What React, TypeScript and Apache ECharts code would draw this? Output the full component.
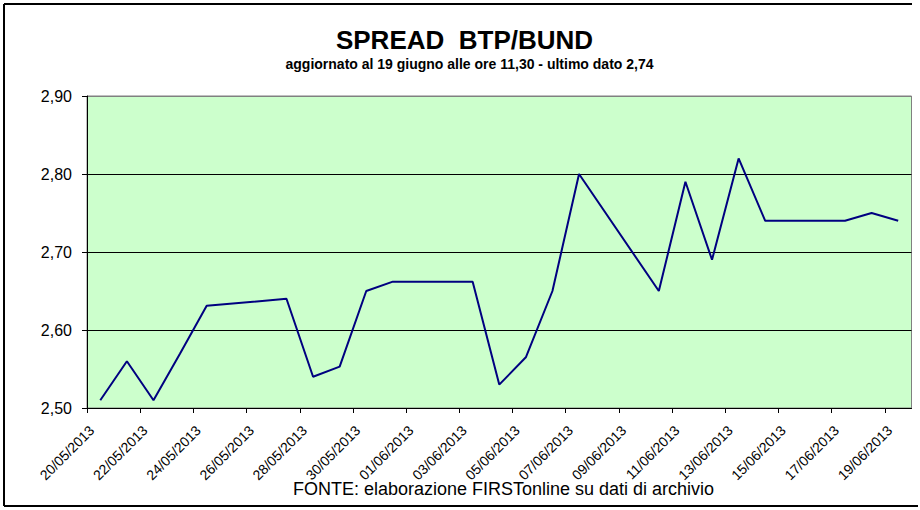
import React, { useEffect, useRef } from "react";
import * as echarts from "echarts";

const titleText = "SPREAD  BTP/BUND";
const subtitleText = "aggiornato al 19 giugno alle ore 11,30 - ultimo dato 2,74";
const sourceText = "FONTE: elaborazione FIRSTonline su dati di archivio";

const dates = [
  "20/05/2013", "21/05/2013", "22/05/2013", "23/05/2013", "24/05/2013", "25/05/2013", "26/05/2013",
  "27/05/2013", "28/05/2013", "29/05/2013", "30/05/2013", "31/05/2013", "01/06/2013", "02/06/2013",
  "03/06/2013", "04/06/2013", "05/06/2013", "06/06/2013", "07/06/2013", "08/06/2013", "09/06/2013",
  "10/06/2013", "11/06/2013", "12/06/2013", "13/06/2013", "14/06/2013", "15/06/2013", "16/06/2013",
  "17/06/2013", "18/06/2013", "19/06/2013",
];

// null = weekend, no quotation (line is connected across)
const spread: (number | null)[] = [
  2.51, 2.56, 2.51, 2.57, 2.631, null, null,
  2.64, 2.54, 2.553, 2.65, 2.662, null, null,
  2.662, 2.53, 2.565, 2.65, 2.80, null, null,
  2.65, 2.79, 2.69, 2.82, 2.74, null, null,
  2.74, 2.75, 2.74,
];

const labelEvery = 2;
const yMin = 2.5;
const yMax = 2.9;
const yStep = 0.1;

const FONT = '"Liberation Sans", Arial, sans-serif';

export default function App() {
  const ref = useRef<HTMLDivElement>(null);

  useEffect(() => {
    document.body.style.margin = "0";
    if (!ref.current) return;
    const chart = echarts.init(ref.current, undefined, { renderer: "svg" });

    const tickVals: number[] = [];
    for (let i = 0; i < dates.length; i += labelEvery) tickVals.push(i);
    const labelVals = tickVals.map((v) => v + 0.18);

    const data = spread
      .map((v, i) => [i + 0.5, v])
      .filter((p) => p[1] !== null);

    chart.setOption({
      animation: false,
      textStyle: { fontFamily: FONT },
      grid: {
        left: 87,
        right: 8.5,
        top: 96,
        bottom: 102,
        show: true,
        backgroundColor: "#CCFFCC",
        borderColor: "#808080",
        borderWidth: 1,
      },
      xAxis: {
        type: "value",
        min: 0,
        max: dates.length,
        splitLine: { show: false },
        axisLine: { show: true, onZero: false, lineStyle: { color: "#000", width: 1 } },
        axisTick: {
          show: true,
          length: 5,
          customValues: tickVals,
          lineStyle: { color: "#000" },
        },
        axisLabel: {
          customValues: labelVals,
          rotate: 45,
          margin: 20,
          fontSize: 14,
          color: "#000",
          fontFamily: FONT,
          formatter: (v: number) => dates[Math.round(v)] ?? "",
        },
      },
      yAxis: {
        type: "value",
        min: yMin,
        max: yMax,
        interval: yStep,
        axisLine: { show: true, lineStyle: { color: "#000", width: 1 } },
        axisTick: { show: true, length: 5, lineStyle: { color: "#000" } },
        axisLabel: {
          margin: 15,
          fontSize: 16,
          color: "#000",
          fontFamily: FONT,
          formatter: (v: number) => v.toFixed(2).replace(".", ","),
        },
        splitLine: {
          show: true,
          lineStyle: { color: ["#000", "#000", "#000", "#000", "#808080"], width: 1 },
        },
      },
      series: [
        {
          type: "line",
          data,
          showSymbol: false,
          symbol: "none",
          connectNulls: true,
          lineStyle: { color: "#000080", width: 2 },
          itemStyle: { color: "#000080" },
        },
      ],
      graphic: [
        {
          type: "line",
          shape: { x1: 4, y1: 4, x2: 912, y2: 4 },
          style: { stroke: "#000", lineWidth: 2 },
        },
        {
          type: "line",
          shape: { x1: 4, y1: 4, x2: 4, y2: 506 },
          style: { stroke: "#000", lineWidth: 2 },
        },
        {
          type: "line",
          shape: { x1: 4, y1: 506, x2: 918, y2: 506 },
          style: { stroke: "#000", lineWidth: 2 },
        },
        {
          type: "text",
          x: 464.5,
          y: 40,
          style: {
            text: titleText,
            font: `bold 26px ${FONT}`,
            fill: "#000",
            textAlign: "center",
            textVerticalAlign: "middle",
          },
        },
        {
          type: "text",
          x: 469.5,
          y: 64,
          style: {
            text: subtitleText,
            font: `bold 14px ${FONT}`,
            fill: "#000",
            textAlign: "center",
            textVerticalAlign: "middle",
          },
        },
        {
          type: "text",
          x: 503.5,
          y: 489,
          style: {
            text: sourceText,
            font: `18px ${FONT}`,
            fill: "#000",
            textAlign: "center",
            textVerticalAlign: "middle",
          },
        },
      ],
    });

    return () => chart.dispose();
  }, []);

  return <div ref={ref} style={{ width: 920, height: 510 }} />;
}
